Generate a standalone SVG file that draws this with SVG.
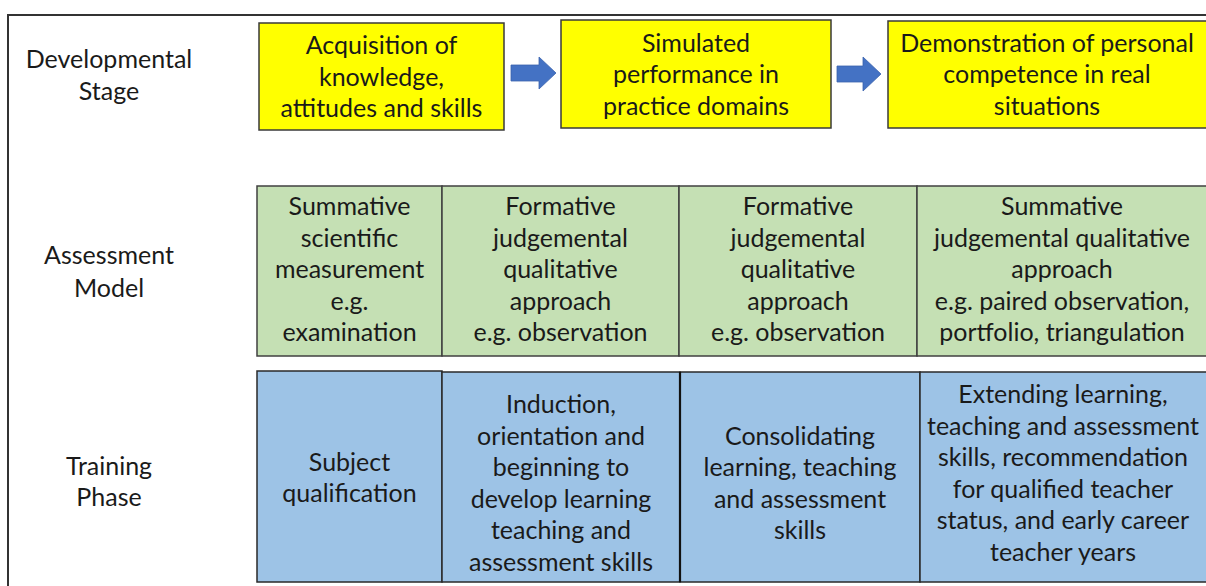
<svg xmlns="http://www.w3.org/2000/svg" width="1206" height="586" viewBox="0 0 1206 586">
<style>
text{font-family:Lato,"Liberation Sans",sans-serif;font-size:25px;fill:#1a1a1a;text-anchor:middle}
.y{fill:#FFFF00;stroke:#3a3a3a;stroke-width:1.5}
.g{fill:#C5E0B4;stroke:#404040;stroke-width:1.5}
.b{fill:#9DC3E6;stroke:#2a2a2a;stroke-width:1.5}
.arr{fill:#4472C4;stroke:#3b63ad;stroke-width:0.8}
</style>
<rect width="1206" height="586" fill="#ffffff"/>
<path d="M8,586 L8,15 L1206,15" fill="none" stroke="#333" stroke-width="2"/>

<g id="label-developmental">
<text x="109" y="68">Developmental</text>
<text x="109" y="100">Stage</text>
</g>
<g id="label-assessment">
<text x="109" y="264">Assessment</text>
<text x="109" y="297">Model</text>
</g>
<g id="label-training">
<text x="109" y="475">Training</text>
<text x="109" y="506">Phase</text>
</g>

<g id="stage-1">
<rect class="y" x="259" y="23" width="245" height="107"/>
<text x="381.5" y="54">Acquisition of</text>
<text x="381.5" y="86">knowledge,</text>
<text x="381.5" y="117">attitudes and skills</text>
</g>
<g id="stage-2">
<rect class="y" x="561" y="20" width="270" height="108"/>
<text x="696" y="52">Simulated</text>
<text x="696" y="83">performance in</text>
<text x="696" y="115">practice domains</text>
</g>
<g id="stage-3">
<rect class="y" x="888" y="21" width="330" height="107"/>
<text x="1047" y="52">Demonstration of personal</text>
<text x="1047" y="83">competence in real</text>
<text x="1047" y="115">situations</text>
</g>

<g id="connectors">
<path class="arr" d="M511,65 L539,65 L539,57 L556,73 L539,89 L539,81 L511,81 Z"/>
<path class="arr" d="M837,66 L863,66 L863,57 L881,74 L863,91 L863,82 L837,82 Z"/>
</g>

<g id="assess-1">
<rect class="g" x="257" y="186" width="185" height="170"/>
<text x="349.5" y="215">Summative</text>
<text x="349.5" y="246.5">scientific</text>
<text x="349.5" y="278">measurement</text>
<text x="349.5" y="309.5">e.g.</text>
<text x="349.5" y="341">examination</text>
</g>
<g id="assess-2">
<rect class="g" x="442" y="186" width="237" height="170"/>
<text x="560.5" y="215">Formative</text>
<text x="560.5" y="246.5">judgemental</text>
<text x="560.5" y="278">qualitative</text>
<text x="560.5" y="309.5">approach</text>
<text x="560.5" y="341">e.g. observation</text>
</g>
<g id="assess-3">
<rect class="g" x="679" y="186" width="238" height="170"/>
<text x="798" y="215">Formative</text>
<text x="798" y="246.5">judgemental</text>
<text x="798" y="278">qualitative</text>
<text x="798" y="309.5">approach</text>
<text x="798" y="341">e.g. observation</text>
</g>
<g id="assess-4">
<rect class="g" x="917" y="186" width="300" height="170"/>
<text x="1062" y="215">Summative</text>
<text x="1062" y="246.5">judgemental qualitative</text>
<text x="1062" y="278">approach</text>
<text x="1062" y="309.5">e.g. paired observation,</text>
<text x="1062" y="341">portfolio, triangulation</text>
</g>

<g id="phase-1">
<rect class="b" x="257" y="371" width="185" height="211"/>
<text x="349.5" y="471">Subject</text>
<text x="349.5" y="502">qualification</text>
</g>
<g id="phase-2">
<rect class="b" x="442" y="372" width="238" height="210"/>
<text x="561" y="413">Induction,</text>
<text x="561" y="444.5">orientation and</text>
<text x="561" y="476">beginning to</text>
<text x="561" y="507.5">develop learning</text>
<text x="561" y="539">teaching and</text>
<text x="561" y="570.5">assessment skills</text>
</g>
<g id="phase-3">
<rect class="b" x="680" y="372" width="240" height="210"/>
<line x1="680" y1="372" x2="680" y2="582" stroke="#111" stroke-width="2.2"/>
<text x="800" y="445">Consolidating</text>
<text x="800" y="476">learning, teaching</text>
<text x="800" y="508">and assessment</text>
<text x="800" y="539">skills</text>
</g>
<g id="phase-4">
<rect class="b" x="920" y="372" width="300" height="210"/>
<text x="1063" y="403">Extending learning,</text>
<text x="1063" y="435">teaching and assessment</text>
<text x="1063" y="466">skills, recommendation</text>
<text x="1063" y="498">for qualified teacher</text>
<text x="1063" y="529">status, and early career</text>
<text x="1063" y="561">teacher years</text>
</g>
</svg>
